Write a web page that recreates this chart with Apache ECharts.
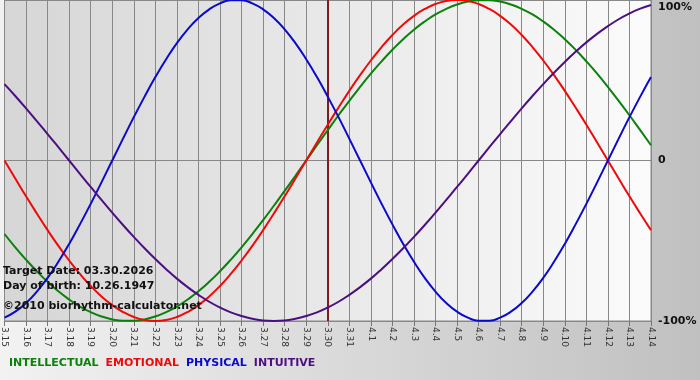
<!DOCTYPE html>
<html>
<head>
<meta charset="utf-8">
<script src="https://cdn.jsdelivr.net/npm/echarts@6/dist/echarts.min.js"></script>
<style>
html,body{margin:0;padding:0;background:#fff;}
#chart{width:700px;height:380px;}
</style>
</head>
<body>
<div id="chart"></div>
<script>
// tick labels (one per day, day index 0..30)
const days = ['3.15','3.16','3.17','3.18','3.19','3.20','3.21','3.22','3.23','3.24','3.25','3.26','3.27','3.28','3.29','3.30','3.31','4.1','4.2','4.3','4.4','4.5','4.6','4.7','4.8','4.9','4.10','4.11','4.12','4.13','4.14'];
// positions (in days from 3.15) where the curves were read, every half day
const samplePos = [0,0.5,1,1.5,2,2.5,3,3.5,4,4.5,5,5.5,6,6.5,7,7.5,8,8.5,9,9.5,10,10.5,11,11.5,12,12.5,13,13.5,14,14.5,15,15.5,16,16.5,17,17.5,18,18.5,19,19.5,20,20.5,21,21.5,22,22.5,23,23.5,24,24.5,25,25.5,26,26.5,27,27.5,28,28.5,29,29.5,30];
const intellectual = [-0.458,-0.541,-0.618,-0.690,-0.756,-0.815,-0.866,-0.910,-0.945,-0.972,-0.990,-0.999,-0.999,-0.990,-0.972,-0.945,-0.910,-0.866,-0.815,-0.756,-0.690,-0.618,-0.541,-0.458,-0.372,-0.282,-0.189,-0.095,0,0.095,0.189,0.282,0.372,0.458,0.541,0.618,0.690,0.756,0.815,0.866,0.910,0.945,0.972,0.990,0.999,0.999,0.990,0.972,0.945,0.910,0.866,0.815,0.756,0.690,0.618,0.541,0.458,0.372,0.282,0.189,0.095];
const emotional = [0,-0.112,-0.223,-0.330,-0.434,-0.532,-0.623,-0.707,-0.782,-0.847,-0.901,-0.944,-0.975,-0.994,-1.000,-0.994,-0.975,-0.944,-0.901,-0.847,-0.782,-0.707,-0.623,-0.532,-0.434,-0.330,-0.223,-0.112,0,0.112,0.223,0.330,0.434,0.532,0.623,0.707,0.782,0.847,0.901,0.944,0.975,0.994,1.000,0.994,0.975,0.944,0.901,0.847,0.782,0.707,0.623,0.532,0.434,0.330,0.223,0.112,0,-0.112,-0.223,-0.330,-0.434];
const physical = [-0.979,-0.942,-0.888,-0.817,-0.731,-0.631,-0.520,-0.398,-0.270,-0.136,0,0.136,0.270,0.398,0.520,0.631,0.731,0.817,0.888,0.942,0.979,0.998,0.998,0.979,0.942,0.888,0.817,0.731,0.631,0.520,0.398,0.270,0.136,0,-0.136,-0.270,-0.398,-0.520,-0.631,-0.731,-0.817,-0.888,-0.942,-0.979,-0.998,-0.998,-0.979,-0.942,-0.888,-0.817,-0.731,-0.631,-0.520,-0.398,-0.270,-0.136,0,0.136,0.270,0.398,0.520];
const intuitive = [0.476,0.402,0.325,0.245,0.165,0.083,0,-0.083,-0.165,-0.245,-0.325,-0.402,-0.476,-0.547,-0.614,-0.677,-0.736,-0.789,-0.837,-0.880,-0.916,-0.946,-0.969,-0.986,-0.997,-1.000,-0.997,-0.986,-0.969,-0.946,-0.916,-0.880,-0.837,-0.789,-0.736,-0.677,-0.614,-0.547,-0.476,-0.402,-0.325,-0.245,-0.165,-0.083,0,0.083,0.165,0.245,0.325,0.402,0.476,0.547,0.614,0.677,0.736,0.789,0.837,0.880,0.916,0.946,0.969];
const yTickValues = [-1, 0, 1];
const yTickLabels = ['-100%', '0', '100%'];
const targetDay = '3.30';
const seriesNames = ['INTELLECTUAL', 'EMOTIONAL', 'PHYSICAL', 'INTUITIVE'];
const seriesColors = ['#0b800b', '#ee0a0a', '#0a0acc', '#4b0f82'];
const infoLines = ['Target Date: 03.30.2026', 'Day of birth: 10.26.1947', '\u00a92010 biorhythm-calculator.net'];

const chart = echarts.init(document.getElementById('chart'), null, {renderer: 'canvas'});
const values = [intellectual, emotional, physical, intuitive];
const series = seriesNames.map((n, i) => ({
  name: n,
  type: 'line',
  data: samplePos.map((x, j) => [x, values[i][j]]),
  smooth: true,
  symbol: 'none',
  lineStyle: {color: seriesColors[i], width: 2},
  itemStyle: {color: seriesColors[i]},
  z: 3
}));
series[0].markLine = {
  silent: true,
  symbol: ['none', 'none'],
  label: {show: false},
  lineStyle: {color: '#7d1c1c', width: 2, type: 'solid'},
  data: [{xAxis: days.indexOf(targetDay)}],
  z: 2
};

const option = {
  animation: false,
  backgroundColor: new echarts.graphic.LinearGradient(0, 0, 1, 0, [
    {offset: 0, color: '#f2f2f2'}, {offset: 1, color: '#c0c0c0'}
  ]),
  grid: {
    left: 0, top: 0, width: 651, height: 321,
    show: true,
    borderColor: '#888888', borderWidth: 1,
    backgroundColor: new echarts.graphic.LinearGradient(0, 0, 1, 0, [
      {offset: 0, color: '#d6d6d6'}, {offset: 1, color: '#fbfbfb'}
    ])
  },
  legend: {
    left: -1, top: 353,
    icon: 'rect', itemWidth: 0, itemHeight: 0, itemGap: 2,
    selectedMode: false,
    textStyle: {fontFamily: 'DejaVu Sans', fontWeight: 'bold', fontSize: 11},
    data: seriesNames.map((n, i) => ({name: n, textStyle: {color: seriesColors[i]}}))
  },
  xAxis: {
    type: 'value',
    min: 0, max: days.length - 1, interval: 1,
    axisLine: {show: true, onZero: false, lineStyle: {color: '#888888'}},
    axisTick: {show: true, length: 5, lineStyle: {color: '#777777'}},
    splitLine: {show: true, lineStyle: {color: '#888888', width: 1}},
    axisLabel: {
      rotate: -90, margin: 6, showMinLabel: true, showMaxLabel: true,
      fontFamily: 'DejaVu Sans', fontSize: 9, color: '#333333',
      formatter: v => days[Math.round(v)] || ''
    }
  },
  yAxis: {
    type: 'value',
    position: 'right',
    min: -1, max: 1, interval: 1,
    axisLine: {show: false},
    axisTick: {show: false},
    splitLine: {show: true, lineStyle: {color: '#888888', width: 1}},
    axisLabel: {
      margin: 7,
      fontFamily: 'DejaVu Sans', fontWeight: 'bold', fontSize: 11, color: '#111111',
      verticalAlignMaxLabel: 'top',
      padding: [2, 0, 0, 0],
      formatter: v => {
        const k = yTickValues.indexOf(Math.round(v));
        return k >= 0 ? yTickLabels[k] : '';
      }
    }
  },
  graphic: infoLines.map((t, i) => ({
    type: 'text',
    left: 3,
    top: [266, 281, 301][i],
    z: 100,
    style: {text: t, font: 'bold 11px "DejaVu Sans"', fill: '#111111'}
  })),
  series: series
};
chart.setOption(option);
</script>
</body>
</html>
